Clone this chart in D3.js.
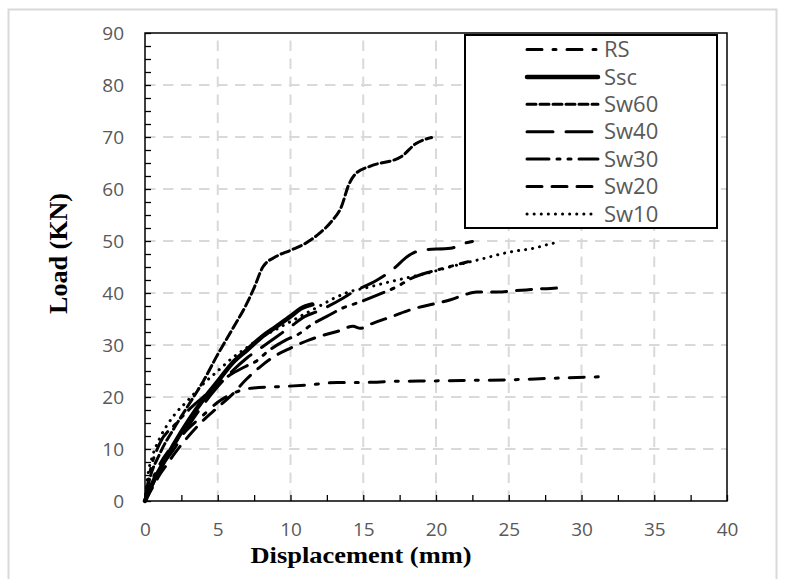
<!DOCTYPE html>
<html>
<head>
<meta charset="utf-8">
<script src="https://cdn.jsdelivr.net/npm/d3@7/dist/d3.min.js"></script>
<style>
  body { margin: 0; background: #fff; }
  svg { display: block; }
</style>
</head>
<body>
<div class="vis-loadchart"></div>
<script>
// values: [displacement (mm), load (kN)]
const seriesNames = ["RS", "Ssc", "Sw60", "Sw40", "Sw30", "Sw20", "Sw10"];

const RS = [[0,0],[0.5,4],[1,7],[2,11],[3,14],[4,16.5],[5,19],[5.7,20.2],[6.3,21],[7.3,21.7],[9.3,22],
  [11.2,22.3],[13.2,22.8],[15,22.8],[17,23],[20,23.1],[22.5,23.2],[25,23.3],[28,23.6],[31.5,23.9]];
const Ssc = [[0,0],[0.3,2],[0.7,4.5],[1,6],[1.5,8.5],[2,11],[3,15.5],[4,19.5],[5,23],[6,26.5],[7,29],
  [8,31.5],[9,33.5],[10,35.5],[10.7,37],[11.5,37.8]];
const Sw60 = [[0,0],[0.3,4],[1,9],[2,14],[3,18.5],[4,23],[5,28.2],[6,33],[7,38],[7.5,41],[8.1,45],[9,47],
  [10,48.2],[11,49.5],[12,51.5],[12.8,53.7],[13.5,56.6],[14,60.8],[14.5,63],[15.5,64.4],[17.6,66.2],
  [18.6,68.7],[19.7,69.9]];
const Sw40 = [[0,0],[0.5,3],[1,6],[2,10],[3,14.5],[4,18.5],[5,22],[6,25],[7,27.5],[8,29.5],[9,31.5],
  [10,33.5],[11,35.5],[11.8,36.4],[13.6,39],[14.3,40.2],[15.9,42.4],[16.8,44],[18.3,47.5],[19.1,48.3],
  [21,48.6],[22,49.6],[22.5,49.9]];
const Sw30 = [[0,0],[0.3,5],[1,11],[2,14.5],[3,17.5],[4,20],[5,22.5],[6,24.5],[7,26],[7.6,26.8],
  [8.4,28.7],[9.7,31],[10.5,32],[11.5,34],[12.5,35.5],[13.5,37],[14.8,38.3],[15.7,39.3],[17.5,41.5],
  [18.3,42.8],[19.5,44],[20.3,44.6],[22.2,46]];
const Sw20 = [[0,0],[0.5,2.5],[1,5],[1.5,7],[2,9],[3,12.5],[4,15.5],[5,18],[6,20.5],[7,23.5],[8,26],
  [9,28],[10,29.4],[11.3,31],[12.3,31.9],[13.2,32.6],[14.3,33.6],[14.8,33.2],[15.5,34],[17,35.5],
  [18.5,37],[20,38],[21,38.7],[22,39.7],[22.8,40.2],[24.3,40.2],[25.2,40.4],[26.2,40.6],[27.2,40.8],
  [28.1,40.9],[28.8,41.1]];
const Sw10 = [[0,0],[0.2,5],[0.5,8.5],[1,12],[1.5,14.5],[2,16.5],[3,19.5],[4,22.5],[5,25],[6,27.5],
  [7,29.5],[8,31.5],[9,33],[10,34.5],[11,36],[12,37.5],[13,39],[14,40.2],[15.2,41],[16.9,42.2],
  [18.9,43.5],[19.8,44.1],[20.3,44.5],[22.2,45.9],[22.8,46.3],[25.1,47.9],[26.7,48.6],[28.1,49.6],
  [28.5,49.8]];

const xTicks = [0, 5, 10, 15, 20, 25, 30, 35, 40];
const yTicks = [0, 10, 20, 30, 40, 50, 60, 70, 80, 90];
const xMinor = d3.range(0, 40.01, 2.5);
const yMinor = d3.range(0, 90.01, 2.5);

const seriesData = [RS, Ssc, Sw60, Sw40, Sw30, Sw20, Sw10];

// line styles per series (Excel dash types)
const lineStyle = {
  RS:   { w: 3,   dash: "15,11,3,11" },
  Ssc:  { w: 4.5, dash: null },
  Sw60: { w: 3,   dash: "9,4" },
  Sw40: { w: 3,   dash: "26,13" },
  Sw30: { w: 3,   dash: "22,8,3,8,3,8" },
  Sw20: { w: 3,   dash: "15,10" },
  Sw10: { w: 3,   dash: "0.1,7" }
};

const width = 786, height = 579;
const tickFont = "'Open Sans', 'Noto Sans', sans-serif";

const svg = d3.select(".vis-loadchart")
  .append("svg")
  .attr("width", width)
  .attr("height", height);

// outer picture frame
svg.append("rect")
  .attr("x", 8.5).attr("y", 9.5)
  .attr("width", 768).attr("height", 600)
  .attr("fill", "none")
  .attr("stroke", "#d9d9d9")
  .attr("stroke-width", 2);

const x = d3.scaleLinear().domain([0, 40]).range([145, 727]);
const y = d3.scaleLinear().domain([0, 90]).range([501, 33]);

// grid
svg.append("g")
  .selectAll("line")
  .data(xTicks.slice(1, -1))
  .join("line")
  .attr("x1", d => x(d)).attr("x2", d => x(d))
  .attr("y1", y(0)).attr("y2", y(90))
  .attr("stroke", "#d9d9d9")
  .attr("stroke-width", 2)
  .attr("stroke-dasharray", "10.5,7.5");

svg.append("g")
  .selectAll("line")
  .data(yTicks.slice(1, -1))
  .join("line")
  .attr("x1", x(0)).attr("x2", x(40))
  .attr("y1", d => y(d)).attr("y2", d => y(d))
  .attr("stroke", "#d9d9d9")
  .attr("stroke-width", 2)
  .attr("stroke-dasharray", "10.5,7.5");

// inward ticks
svg.append("g")
  .attr("transform", `translate(0,${y(0)})`)
  .call(d3.axisBottom(x).tickValues(xMinor).tickSize(-6).tickFormat(""))
  .call(g => g.select(".domain").remove())
  .selectAll("line").attr("stroke", "#000").attr("stroke-width", 1.3);

svg.append("g")
  .attr("transform", `translate(${x(0)},0)`)
  .call(d3.axisLeft(y).tickValues(yMinor).tickSize(-6).tickFormat(""))
  .call(g => g.select(".domain").remove())
  .selectAll("line").attr("stroke", "#000").attr("stroke-width", 1.3);

// tick labels
const xLab = svg.append("g")
  .attr("transform", `translate(0,${y(0)})`)
  .call(d3.axisBottom(x).tickValues(xTicks).tickSize(0).tickPadding(22));
xLab.select(".domain").remove();
xLab.selectAll("text")
  .attr("font-family", tickFont)
  .attr("font-size", 19)
  .attr("fill", "#595959");

const yLab = svg.append("g")
  .attr("transform", `translate(${x(0)},0)`)
  .call(d3.axisLeft(y).tickValues(yTicks).tickSize(0).tickPadding(21));
yLab.select(".domain").remove();
yLab.selectAll("text")
  .attr("font-family", tickFont)
  .attr("font-size", 19)
  .attr("fill", "#595959");

// plot frame
svg.append("rect")
  .attr("x", x(0)).attr("y", y(90))
  .attr("width", x(40) - x(0)).attr("height", y(0) - y(90))
  .attr("fill", "none")
  .attr("stroke", "#000")
  .attr("stroke-width", 1.5);

// curves
const line = d3.line()
  .x(d => x(d[0]))
  .y(d => y(d[1]))
  .curve(d3.curveMonotoneX);

svg.append("g")
  .selectAll("path")
  .data(seriesData)
  .join("path")
  .attr("d", d => line(d))
  .attr("fill", "none")
  .attr("stroke", "#000")
  .attr("stroke-width", (d, i) => lineStyle[seriesNames[i]].w)
  .attr("stroke-dasharray", (d, i) => lineStyle[seriesNames[i]].dash)
  .attr("stroke-linecap", "round")
  .attr("stroke-linejoin", "round");

// axis titles
svg.append("text")
  .attr("x", 361).attr("y", 563)
  .attr("text-anchor", "middle")
  .attr("font-family", "'Liberation Serif', 'Times New Roman', serif")
  .attr("font-weight", "bold")
  .attr("font-size", 23)
  .attr("textLength", 221)
  .attr("lengthAdjust", "spacingAndGlyphs")
  .text("Displacement (mm)");

svg.append("text")
  .attr("transform", "translate(67,253.5) rotate(-90)")
  .attr("text-anchor", "middle")
  .attr("font-family", "'Liberation Serif', 'Times New Roman', serif")
  .attr("font-weight", "bold")
  .attr("font-size", 25)
  .attr("textLength", 121)
  .attr("lengthAdjust", "spacingAndGlyphs")
  .text("Load (KN)");

// legend
const legend = svg.append("g");
legend.append("rect")
  .attr("x", 465).attr("y", 35)
  .attr("width", 252).attr("height", 193)
  .attr("fill", "#fff")
  .attr("stroke", "#000")
  .attr("stroke-width", 2);

const item = legend.selectAll("g.item")
  .data(seriesNames)
  .join("g")
  .attr("class", "item")
  .attr("transform", (d, i) => `translate(0,${49.5 + i * 27.4})`);

item.append("line")
  .attr("x1", 527).attr("x2", 598)
  .attr("stroke", "#000")
  .attr("stroke-width", d => lineStyle[d].w)
  .attr("stroke-dasharray", d => lineStyle[d].dash)
  .attr("stroke-linecap", "round");

item.append("text")
  .attr("x", 604)
  .attr("dy", "0.35em")
  .attr("font-family", tickFont)
  .attr("font-size", 22)
  .attr("fill", "#595959")
  .text(d => d);
</script>
</body>
</html>
